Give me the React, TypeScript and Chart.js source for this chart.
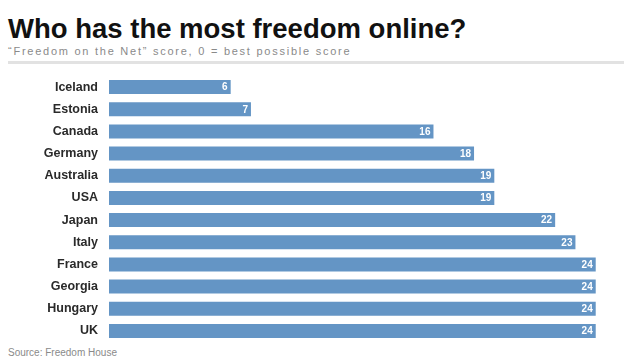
import React, { useEffect, useRef } from "react";
import { Chart, registerables } from "chart.js";

Chart.register(...registerables);

const countries = ["Iceland", "Estonia", "Canada", "Germany", "Australia", "USA", "Japan", "Italy", "France", "Georgia", "Hungary", "UK"];
const scores = [6, 7, 16, 18, 19, 19, 22, 23, 24, 24, 24, 24];
const xMax = 25;

const titleText = "Who has the most freedom online?";
const subtitleText = "\u201CFreedom on the Net\u201D score, 0 = best possible score";
const sourceText = "Source: Freedom House";

const valueLabels = {
  id: "valueLabels",
  afterDatasetsDraw(chart: any) {
    const ctx = chart.ctx;
    const meta = chart.getDatasetMeta(0);
    ctx.save();
    ctx.fillStyle = "#ffffff";
    ctx.font = "bold 10px 'Liberation Sans', Arial, sans-serif";
    ctx.textAlign = "right";
    ctx.textBaseline = "middle";
    meta.data.forEach((bar: any, i: number) => {
      ctx.fillText(String(chart.data.datasets[0].data[i]), bar.x - 3, bar.y + 0.5);
    });
    ctx.restore();
  },
};

export default function App() {
  const canvasRef = useRef<HTMLCanvasElement | null>(null);

  useEffect(() => {
    if (!canvasRef.current) return;
    const chart = new Chart(canvasRef.current, {
      type: "bar",
      data: {
        labels: countries,
        datasets: [
          {
            data: scores,
            backgroundColor: "#6495c5",
            borderWidth: 0,
            barPercentage: 0.63,
            categoryPercentage: 1,
          },
        ],
      },
      options: {
        indexAxis: "y",
        responsive: false,
        maintainAspectRatio: false,
        animation: false,
        layout: { padding: { left: 0, right: 8, top: 0, bottom: 0 } },
        plugins: {
          legend: { display: false },
          tooltip: { enabled: false },
          title: { display: false },
        },
        scales: {
          x: { display: false, min: 0, max: xMax },
          y: {
            grid: { display: false, drawTicks: false },
            border: { display: false },
            ticks: {
              color: "#2a2a2a",
              padding: 11,
              font: { family: "'Liberation Sans', Arial, sans-serif", size: 12.5, weight: "bold" },
            },
            afterFit(scale: any) {
              scale.width = 109;
              scale.paddingTop = 0;
              scale.paddingBottom = 0;
            },
          },
        },
      },
      plugins: [valueLabels],
    } as any);
    return () => chart.destroy();
  }, []);

  return (
    <div
      style={{
        position: "fixed",
        left: 0,
        top: 0,
        width: 624,
        height: 358,
        background: "#ffffff",
        fontFamily: "'Liberation Sans', Arial, sans-serif",
        overflow: "hidden",
      }}
    >
      <div
        style={{
          position: "absolute",
          left: 8,
          top: 15,
          fontSize: 27.5,
          lineHeight: "28px",
          fontWeight: "bold",
          color: "#111111",
          whiteSpace: "nowrap",
        }}
      >
        {titleText}
      </div>
      <div
        style={{
          position: "absolute",
          left: 8,
          top: 45,
          fontSize: 11,
          lineHeight: "12px",
          letterSpacing: 1.75,
          color: "#8a8a8a",
          whiteSpace: "nowrap",
        }}
      >
        {subtitleText}
      </div>
      <div
        style={{
          position: "absolute",
          left: 8,
          top: 61,
          width: 616,
          height: 3,
          background: "#e2e2e2",
        }}
      />
      <canvas
        ref={canvasRef}
        width={624}
        height={266}
        style={{ position: "absolute", left: 0, top: 76, width: 624, height: 266 }}
      />
      <div
        style={{
          position: "absolute",
          left: 8,
          top: 347,
          fontSize: 10,
          lineHeight: "11px",
          color: "#8a8a8a",
          whiteSpace: "nowrap",
        }}
      >
        {sourceText}
      </div>
    </div>
  );
}
